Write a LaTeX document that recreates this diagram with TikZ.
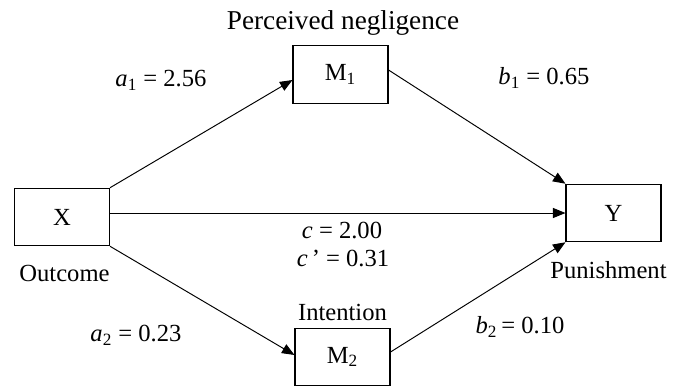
\documentclass[tikz,border=0pt]{standalone}
\usepackage{fontspec}
\setmainfont{Liberation Serif}
\usetikzlibrary{positioning}
\usetikzlibrary{arrows.meta}
\def\boxHeight{1.15}
\def\boxWidth{1.9}
\def\coefFont{\fontsize{14}{16}\selectfont}
\def\nameFont{\fontsize{15.5}{18}\selectfont}
\tikzset{% mediation model styles
  var/.style    = {draw, rectangle, line width=0.6pt, minimum width=\boxWidth cm,
    minimum height=\boxHeight cm},
  link/.style   = {-{Triangle[length=0.25cm, width=0.2cm]}, line width=0.55pt},
  coef/.style   = {font=\coefFont, inner sep=1pt},
}

\begin{document}
\begin{tikzpicture}[font=\coefFont]
      \useasboundingbox (0,0) rectangle (13.66,-7.82);

      % Variables
      \node[var] (X) at (1.24,-4.34) {X};
      \node[var] (MOne) at (6.81,-1.49) {M\textsubscript{1}};
      \node[var] (MTwo) at (6.85,-7.14) {M\textsubscript{2}};
      \node[var] (Y) at (12.27,-4.26) {Y};

      % Names
      \node[below = 0.26 cm of X, xshift=0.05cm] (XName) {Outcome};
      \node[above = 0.08 cm of MOne, xshift=0.05cm, font=\nameFont] (MOneName) {Perceived negligence};
      \node[above = 0.02 cm of MTwo] (MTwoName) {Intention};
      \node[below = 0.26 cm of Y, xshift=-0.1cm] (YName) {Punishment};

      % Paths
      \draw[link] (X.north east) -- ([yshift=-0.11cm]MOne.west);
      \draw[link] ([yshift=0.09cm]MOne.east) -- (Y.north west);
      \draw[link] (X.east |- Y.west) -- (Y.west);
      \draw[link] (X.south east) -- ([yshift=0.04cm]MTwo.west);
      \draw[link] ([yshift=0.1cm]MTwo.east) -- (Y.south west);

      % Coefficients
      \node[coef] (aOne) at (3.22,-1.6) {\textit{a}\textsubscript{1} = 2.56};
      \node[coef] (bOne) at (10.88,-1.56) {\textit{b}\textsubscript{1} = 0.65};
      \node[coef] (cTot) at (6.84,-4.6) {\textit{c} = 2.00};
      \node[coef] (cDir) at (6.86,-5.16) {\textit{c}\,’ = 0.31};
      \node[coef] (aTwo) at (2.72,-6.7) {\textit{a}\textsubscript{2} = 0.23};
      \node[coef] (bTwo) at (10.4,-6.54) {\textit{b}\textsubscript{2}\,= 0.10};
\end{tikzpicture}
\end{document}
